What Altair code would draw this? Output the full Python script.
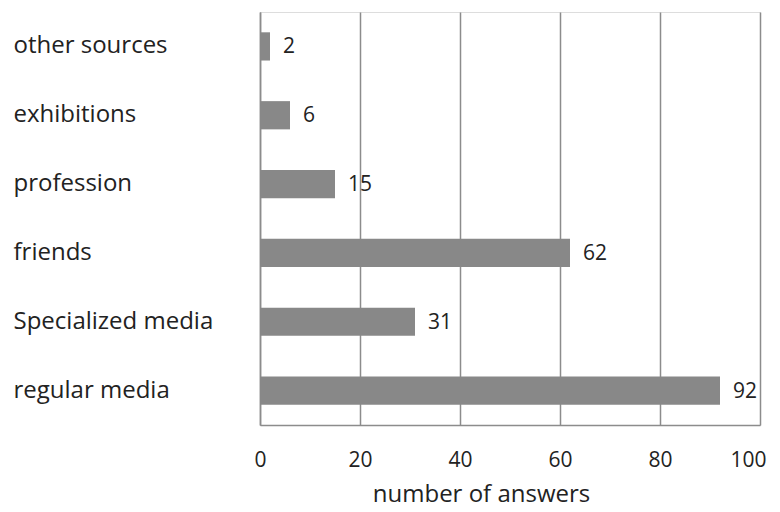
import altair as alt
import pandas as pd

categories = ["other sources", "exhibitions", "profession", "friends", "Specialized media", "regular media"]
values = [2, 6, 15, 62, 31, 92]
x_ticks = [0, 20, 40, 60, 80, 100]

df = pd.DataFrame({"source": categories, "answers": values})

FONT = "Open Sans"
GRID = "#8c8c8c"
TXT = "#222222"

base = alt.Chart(df).encode(
    y=alt.Y("source:N", sort=categories, title=None,
            scale=alt.Scale(paddingInner=0.59, paddingOuter=0.295),
            axis=alt.Axis(labelAlign="left", labelPadding=247, labelLimit=300,
                          ticks=False, tickSize=0,
                          labelFont=FONT, labelFontSize=24, labelColor=TXT,
                          domainColor=GRID, domainWidth=1.5, grid=False)),
)

bars = base.mark_bar(color="#888888").encode(
    x=alt.X("answers:Q", title="number of answers",
            scale=alt.Scale(domain=[0, 100], nice=False),
            axis=alt.Axis(values=x_ticks, ticks=False, tickSize=0, labelPadding=24,
                          labelFlush=True, labelFlushOffset=6,
                          labelFont=FONT, labelFontSize=21, labelColor=TXT,
                          titleFont=FONT, titleFontSize=24, titleFontWeight="normal",
                          titleColor=TXT, titleX=221, titleY=76,
                          titleAlign="center", titleBaseline="alphabetic",
                          domainColor=GRID, domainWidth=1.5,
                          grid=True, gridColor=GRID, gridWidth=1.5))
)

text = base.mark_text(align="left", baseline="middle", dx=13, dy=1,
                      font=FONT, fontSize=21, color=TXT).encode(
    x=alt.X("answers:Q"),
    text=alt.Text("answers:Q")
)

chart = alt.layer(bars, text).properties(
    width=500, height=413,
    autosize=alt.AutoSizeParams(type="none"),
    padding={"left": 252, "top": 4, "right": 12, "bottom": 82},
).configure_view(stroke=None).configure(background="white")

chart.save("out.html", embed_options={"renderer": "svg", "actions": False})
